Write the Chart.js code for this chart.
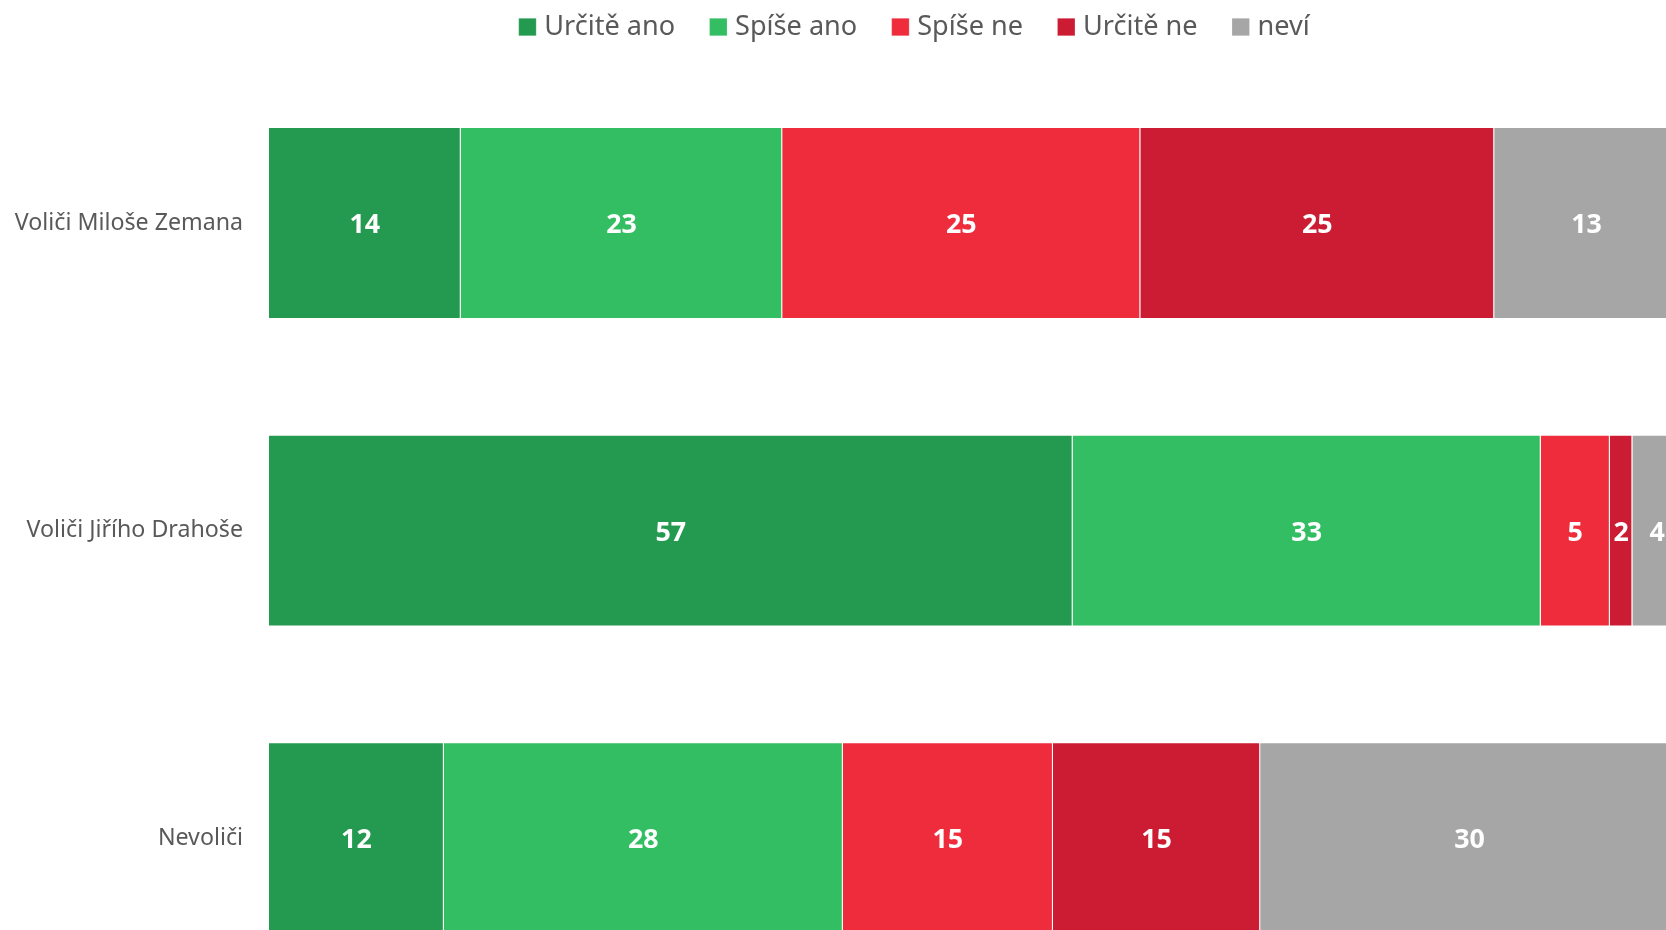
<!DOCTYPE html>
<html>
<head>
<meta charset="utf-8">
<script src="https://cdn.jsdelivr.net/npm/chart.js@4.4.1/dist/chart.umd.min.js"></script>
<style>
  html, body { margin: 0; padding: 0; background: #fff; overflow: hidden; }
  /* the chart is wider and taller than the window, the right and bottom edges are cut off like in the original */
  #wrap { position: relative; width: 1834px; height: 992px; }
</style>
</head>
<body>
<div id="wrap"><canvas id="chart"></canvas></div>
<script>
// categories and answers
const groups = ['Voliči Miloše Zemana', 'Voliči Jiřího Drahoše', 'Nevoliči'];
const answers = ['Určitě ano', 'Spíše ano', 'Spíše ne', 'Určitě ne', 'neví'];

// percent shares (labels show them rounded)
const urciteAno = [13.6, 57.0, 12.4];
const spiseAno  = [22.8, 33.2, 28.3];
const spiseNe   = [25.4, 4.9, 14.9];
const urciteNe  = [25.1, 1.6, 14.7];
const nevi      = [13.1, 3.5, 29.7];

const colors = ['#249A50', '#34BE63', '#EE2C3C', '#CC1C33', '#A6A6A6'];
const FONT = '"Noto Sans"';
const legendSize = 27.1;

// white numbers in the middle of each segment
const valueLabels = {
    id: 'valueLabels',
    afterDatasetsDraw(chart) {
        const ctx = chart.ctx;
        ctx.save();
        ctx.font = 'bold 26.8px ' + FONT;
        ctx.fillStyle = '#fff';
        ctx.textAlign = 'center';
        ctx.textBaseline = 'alphabetic';
        chart.data.datasets.forEach((ds, i) => {
            chart.getDatasetMeta(i).data.forEach((bar, j) => {
                const p = bar.getProps(['x', 'y', 'base'], true);
                ctx.fillText(Math.round(ds.data[j]), (p.x + p.base) / 2, p.y + 10);
            });
        });
        ctx.restore();
    }
};

const series = [urciteAno, spiseAno, spiseNe, urciteNe, nevi];

const ctx = document.getElementById('chart').getContext('2d');
new Chart(ctx, {
    type: 'bar',
    data: {
        labels: groups,
        datasets: answers.map((name, i) => ({
            label: name,
            data: series[i],
            backgroundColor: colors[i],
            borderColor: 'rgba(255,255,255,0.22)',
            borderWidth: 1,
            barPercentage: 0.624,
            categoryPercentage: 1
        }))
    },
    options: {
        indexAxis: 'y',
        responsive: true,
        maintainAspectRatio: false,
        animation: false,
        layout: { padding: { left: 0, top: -26.5, right: 0, bottom: 0 } },
        scales: {
            x: {
                stacked: true,
                min: 0,
                max: 111,
                position: 'top',
                grid: { display: false },
                border: { display: false },
                ticks: { display: false },
                afterFit(scale) { scale.height = 18.7; }
            },
            y: {
                stacked: true,
                grid: { display: false, drawTicks: false },
                border: { display: false },
                ticks: { padding: 26, color: '#595959', font: { family: FONT, size: 23.2 } },
                afterFit(scale) {
                    scale.width = 269;
                    scale.paddingTop = 0;
                    scale.paddingBottom = 0;
                }
            }
        },
        plugins: {
            legend: {
                position: 'top',
                labels: {
                    usePointStyle: true,
                    pointStyle: 'rect',
                    boxHeight: 17.5,
                    boxWidth: 6.4,
                    padding: 40,
                    color: '#595959',
                    font: { family: FONT, size: legendSize }
                }
            },
            tooltip: { enabled: false }
        }
    },
    plugins: [valueLabels]
});
</script>
</body>
</html>
